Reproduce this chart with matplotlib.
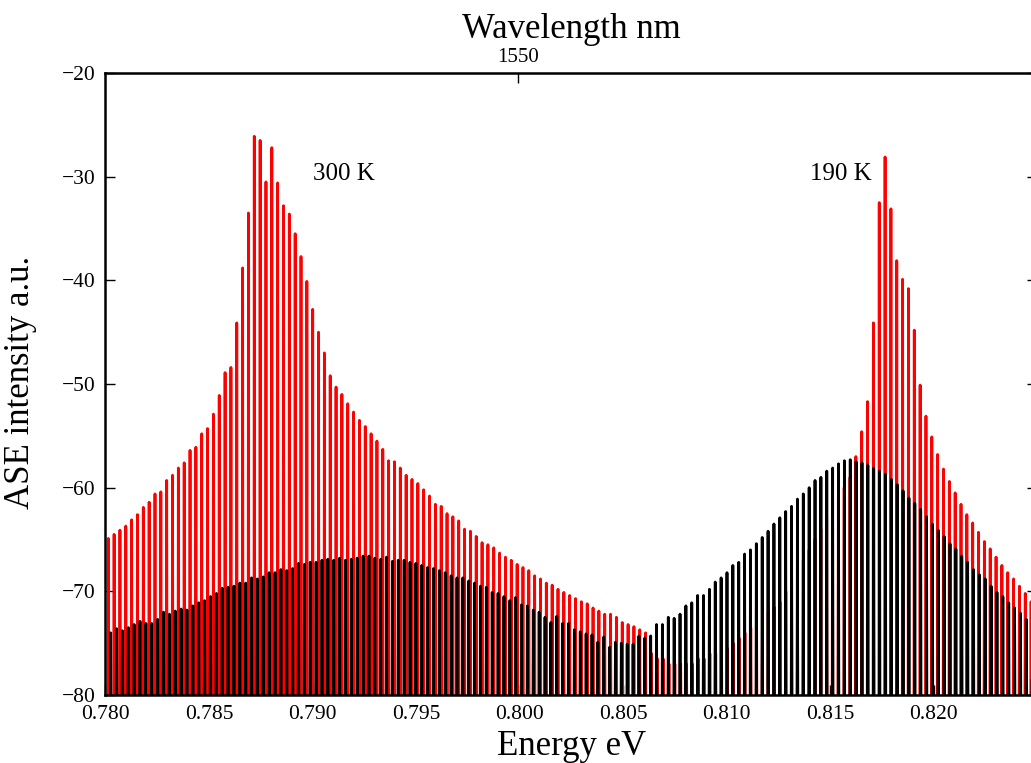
import numpy as np
import matplotlib
matplotlib.use("Agg")
import matplotlib.pyplot as plt
from matplotlib.ticker import FixedLocator, MultipleLocator, FormatStrFormatter

# mode comb (first mode energy and mode spacing, eV)
red_e0, red_de = 0.780135, 0.000282
blk_e0, blk_de = 0.780251, 0.0002834

# peak heights of every Fabry-Perot mode, dB
red_peaks = [
    -64.9, -64.5, -64.1, -63.7, -63.1, -62.6, -61.9, -61.4, -60.6, -60.4,
    -59.3, -58.8, -58.1, -57.6, -56.4, -56.1, -54.8, -54.3, -52.9, -51.1,
    -48.9, -48.4, -44.1, -38.8, -33.5, -26.1, -26.5, -30.5, -27.2, -30.6,
    -32.8, -33.6, -35.5, -37.7, -40.1, -42.8, -45.0, -47.0, -49.2, -50.3,
    -51.0, -51.9, -52.7, -53.5, -54.1, -54.8, -55.5, -56.3, -57.4, -57.5,
    -58.1, -58.8, -59.2, -59.6, -60.2, -60.8, -61.6, -61.8, -62.5, -62.8,
    -63.2, -64.0, -64.2, -64.7, -65.3, -65.5, -65.8, -66.3, -66.7, -67.0,
    -67.4, -67.7, -68.0, -68.5, -68.8, -69.2, -69.4, -69.8, -70.1, -70.4,
    -70.7, -71.0, -71.2, -71.6, -71.9, -72.2, -72.2, -72.5, -73.0, -73.2,
    -73.4, -73.7, -74.0, -76.0, -76.5, -76.5, -77.0, -77.0, -77.0, -77.0,
    -77.0, -76.5, -76.5, -76.0, -76.0, -75.5, -75.5, -75.0, -74.5, -74.0,
    -73.5, -73.0, -72.5, -72.0, -71.5, -71.0, -70.0, -69.0, -68.0, -67.0,
    -66.0, -65.0, -64.0, -63.0, -62.0, -61.0, -60.0, -59.0, -57.0, -54.6,
    -51.7, -44.1, -32.5, -28.1, -33.1, -38.1, -39.9, -40.8, -44.8, -50.1,
    -53.1, -55.1, -56.8, -58.2, -59.4, -60.5, -61.6, -62.6, -63.4, -64.3,
    -65.2, -65.9, -66.7, -67.5, -68.2, -68.8, -69.5, -70.2, -71.0,
]
black_peaks = [
    -74.0, -73.6, -73.8, -73.5, -73.2, -72.9, -73.1, -73.1, -72.7, -72.0,
    -72.2, -71.9, -71.7, -71.8, -71.4, -71.1, -70.9, -70.5, -70.2, -69.7,
    -69.6, -69.5, -69.2, -69.2, -68.7, -68.8, -68.6, -68.2, -68.2, -67.9,
    -68.0, -67.8, -67.3, -67.4, -67.2, -67.2, -67.0, -66.9, -67.0, -66.8,
    -67.0, -66.9, -66.8, -66.6, -66.6, -66.8, -66.9, -66.7, -67.1, -67.0,
    -67.0, -67.2, -67.3, -67.5, -67.7, -67.8, -68.0, -68.2, -68.5, -68.7,
    -68.7, -69.0, -69.2, -69.5, -69.6, -70.1, -70.2, -70.5, -70.9, -70.6,
    -71.3, -71.4, -71.8, -72.0, -72.5, -73.0, -72.4, -73.1, -73.1, -73.7,
    -73.9, -74.1, -74.2, -74.9, -74.4, -75.4, -74.9, -75.0, -75.1, -75.1,
    -74.3, -74.5, -74.3, -73.2, -73.2, -72.5, -72.6, -72.2, -71.4, -71.1,
    -70.4, -70.4, -69.8, -69.1, -68.7, -68.2, -67.5, -67.2, -66.4, -66.0,
    -65.4, -64.8, -64.2, -63.5, -62.9, -62.3, -61.8, -61.1, -60.6, -60.0,
    -59.3, -59.0, -58.4, -58.1, -57.7, -57.4, -57.3, -57.5, -57.6, -57.8,
    -58.1, -58.4, -58.7, -59.2, -59.7, -60.3, -61.0, -61.5, -62.1, -62.8,
    -63.5, -64.1, -64.7, -65.4, -65.9, -66.6, -67.2, -67.9, -68.4, -68.8,
    -69.5, -70.1, -70.5, -71.1, -71.6, -72.1, -72.7, -73.0,
]
floor_level = -81.0

energy_ticks = [0.780, 0.785, 0.790, 0.795, 0.800, 0.805, 0.810, 0.815, 0.820]
wavelength_ticks = [1550]
labels = ["300 K", "190 K"]
label_pos = [(0.7900, -30.3), (0.8140, -30.3)]


def spikes(e0, de, peaks, hw=0.0000145):
    e = e0 + de * np.arange(len(peaks))
    p = np.asarray(peaks)
    fl = np.full_like(p, floor_level)
    x = np.column_stack([e - hw, e, e + hw]).ravel()
    y = np.column_stack([fl, p, fl]).ravel()
    return x, y


plt.rcParams["font.family"] = ["Liberation Serif", "DejaVu Serif"]

fig = plt.figure(figsize=(10.31, 7.63), dpi=100)
ax = fig.add_axes([0.1023, 0.0891, 0.904, 0.8152])

xr, yr = spikes(red_e0, red_de, red_peaks)
xb, yb = spikes(blk_e0, blk_de, black_peaks)
ax.plot(xr, yr, color="#ff0000", lw=2.0, solid_joinstyle="round")
ax.plot(xb, yb, color="black", lw=2.0, solid_joinstyle="round")

for t, (x, y) in zip(labels, label_pos):
    ax.text(x, y, t, fontsize=18, ha="left", va="baseline")

ax.set_xlim(0.780, 0.825)
ax.set_ylim(-80, -20)
ax.xaxis.set_major_locator(FixedLocator(energy_ticks))
ax.xaxis.set_major_formatter(FormatStrFormatter("%.3f"))
ax.yaxis.set_major_locator(MultipleLocator(10))
ax.tick_params(axis="both", direction="in", length=7.5, width=1,
               labelsize=15.5, pad=7)
ax.tick_params(axis="y", right=True)
for s in ax.spines.values():
    s.set_linewidth(1.8)

ax.set_xlabel("Energy eV", fontsize=25, labelpad=4.5)
ax.set_ylabel("ASE intensity a.u.", fontsize=25)
ax.yaxis.set_label_coords(-0.074, 0.503)

top = ax.secondary_xaxis("top", functions=(lambda e: 1239.84 / e,
                                            lambda w: 1239.84 / w))
top.set_xticks(wavelength_ticks)
top.tick_params(direction="in", length=7.5, width=1, labelsize=15, pad=4.5)
top.set_xlabel("Wavelength nm", fontsize=25, labelpad=7)

fig.savefig("out.png", dpi=100)
